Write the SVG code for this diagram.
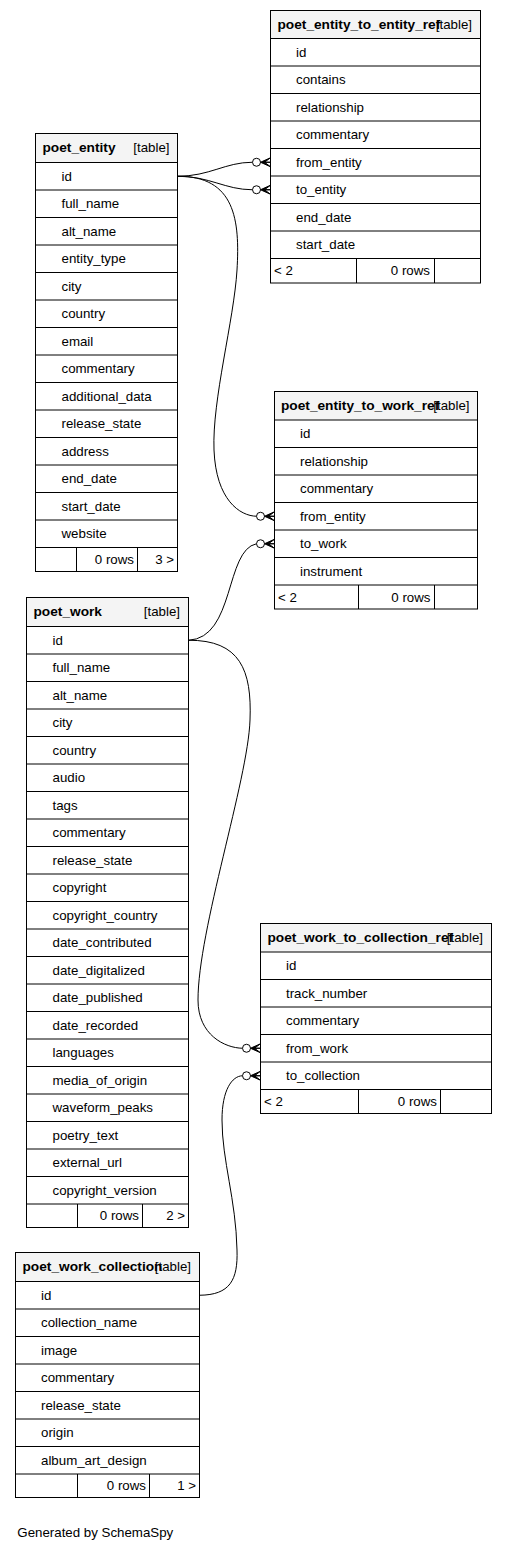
<svg xmlns="http://www.w3.org/2000/svg" xmlns:xlink="http://www.w3.org/1999/xlink" width="506" height="1551" viewBox="0 0 506 1551">
<style>
text{font-family:"Liberation Sans",Arial,Helvetica,sans-serif;font-size:13.3px;fill:#000}
.t{font-weight:bold;font-size:13.7px}
.e{text-anchor:end}
.box{fill:#fff;stroke:#000;stroke-width:1}
.hd{fill:#f4f4f4;stroke:#000;stroke-width:1}
.ln{fill:none;stroke:#000;stroke-width:1}
.edge{fill:none;stroke:#000;stroke-width:1}
</style>
<defs>
<g id="crow"><circle cx="-14" cy="0" r="4" fill="#fff" stroke="#000" stroke-width="1"/><polygon points="-10,0 0,-4.5 -6,0 0,0 -6,0 0,4.5" fill="#000" stroke="#000" stroke-width="1"/></g>
</defs>
<rect width="506" height="1551" fill="#fff"/>
<g id="connectors">
<path class="edge" d="M177.5,176.25 C210,176.25 225,162.25 252.5,162.25"/>
<path class="edge" d="M177.5,176.25 C210,176.25 225,189.75 252.5,189.75"/>
<path class="edge" d="M177.5,176.25 C235,176 240,220 237,270 C234,320 212,400 214,450 C216,500 240,516 256.5,516.25"/>
<path class="edge" d="M188.5,640.25 C235,638 225,550 256.5,543.75"/>
<path class="edge" d="M188.5,640.25 C240,640 252,670 250,720 C248,780 198,930 198,1000 C198,1035 225,1048 242.5,1048.25"/>
<path class="edge" d="M199.5,1295.25 C230,1295 238,1280 237,1250 C236,1200 222,1160 222,1120 C222,1090 232,1076 242.5,1075.75"/>
<use xlink:href="#crow" transform="translate(270.5,162.25)"/>
<use xlink:href="#crow" transform="translate(270.5,189.75)"/>
<use xlink:href="#crow" transform="translate(274.5,516.25)"/>
<use xlink:href="#crow" transform="translate(274.5,543.75)"/>
<use xlink:href="#crow" transform="translate(260.5,1048.25)"/>
<use xlink:href="#crow" transform="translate(260.5,1075.75)"/>
</g>
<g id="poet_entity_to_entity_ref">
<rect class="box" x="270.5" y="10.5" width="210" height="272.5"/>
<rect class="hd" x="270.5" y="10.5" width="210" height="28"/>
<path class="ln" d="M270.5,66H480.5M270.5,93.5H480.5M270.5,121H480.5M270.5,148.5H480.5M270.5,176H480.5M270.5,203.5H480.5M270.5,231H480.5M270.5,258.5H480.5M356.5,258.5V283M434.5,258.5V283"/>
<text class="t" x="277.5" y="28.5">poet_entity_to_entity_ref</text>
<text class="e" x="472" y="28.5">[table]</text>
<text x="296" y="56.8">id</text>
<text x="296" y="84.3">contains</text>
<text x="296" y="111.8">relationship</text>
<text x="296" y="139.3">commentary</text>
<text x="296" y="166.8">from_entity</text>
<text x="296" y="194.3">to_entity</text>
<text x="296" y="221.8">end_date</text>
<text x="296" y="249.3">start_date</text>
<text x="274" y="275">&lt; 2</text>
<text class="e" x="430" y="275">0 rows</text>
</g>
<g id="poet_entity">
<rect class="box" x="35.5" y="133.5" width="142" height="438"/>
<rect class="hd" x="35.5" y="133.5" width="142" height="29"/>
<path class="ln" d="M35.5,190H177.5M35.5,217.5H177.5M35.5,245H177.5M35.5,272.5H177.5M35.5,300H177.5M35.5,327.5H177.5M35.5,355H177.5M35.5,382.5H177.5M35.5,410H177.5M35.5,437.5H177.5M35.5,465H177.5M35.5,492.5H177.5M35.5,520H177.5M35.5,547.5H177.5M76.5,547.5V571.5M137.5,547.5V571.5"/>
<text class="t" x="42.5" y="151.5">poet_entity</text>
<text class="e" x="169.5" y="151.5">[table]</text>
<text x="61.5" y="180.8">id</text>
<text x="61.5" y="208.3">full_name</text>
<text x="61.5" y="235.8">alt_name</text>
<text x="61.5" y="263.3">entity_type</text>
<text x="61.5" y="290.8">city</text>
<text x="61.5" y="318.3">country</text>
<text x="61.5" y="345.8">email</text>
<text x="61.5" y="373.3">commentary</text>
<text x="61.5" y="400.8">additional_data</text>
<text x="61.5" y="428.3">release_state</text>
<text x="61.5" y="455.8">address</text>
<text x="61.5" y="483.3">end_date</text>
<text x="61.5" y="510.8">start_date</text>
<text x="61.5" y="538.3">website</text>
<text class="e" x="134" y="564">0 rows</text>
<text class="e" x="174" y="564">3 &gt;</text>
</g>
<g id="poet_entity_to_work_ref">
<rect class="box" x="274.5" y="391.5" width="203" height="217.5"/>
<rect class="hd" x="274.5" y="391.5" width="203" height="28.5"/>
<path class="ln" d="M274.5,447.5H477.5M274.5,475H477.5M274.5,502.5H477.5M274.5,530H477.5M274.5,557.5H477.5M274.5,585H477.5M358.5,585V609M434.5,585V609"/>
<text class="t" x="281" y="409.5">poet_entity_to_work_ref</text>
<text class="e" x="469.5" y="409.5">[table]</text>
<text x="300" y="438.3">id</text>
<text x="300" y="465.8">relationship</text>
<text x="300" y="493.3">commentary</text>
<text x="300" y="520.8">from_entity</text>
<text x="300" y="548.3">to_work</text>
<text x="300" y="575.8">instrument</text>
<text x="278" y="601.5">&lt; 2</text>
<text class="e" x="430.5" y="601.5">0 rows</text>
</g>
<g id="poet_work">
<rect class="box" x="26.5" y="597.5" width="162" height="630"/>
<rect class="hd" x="26.5" y="597.5" width="162" height="29"/>
<path class="ln" d="M26.5,654H188.5M26.5,681.5H188.5M26.5,709H188.5M26.5,736.5H188.5M26.5,764H188.5M26.5,791.5H188.5M26.5,819H188.5M26.5,846.5H188.5M26.5,874H188.5M26.5,901.5H188.5M26.5,929H188.5M26.5,956.5H188.5M26.5,984H188.5M26.5,1011.5H188.5M26.5,1039H188.5M26.5,1066.5H188.5M26.5,1094H188.5M26.5,1121.5H188.5M26.5,1149H188.5M26.5,1176.5H188.5M26.5,1204H188.5M77.5,1204V1227.5M142.5,1204V1227.5"/>
<text class="t" x="33.5" y="615.5">poet_work</text>
<text class="e" x="180" y="615.5">[table]</text>
<text x="52.5" y="644.8">id</text>
<text x="52.5" y="672.3">full_name</text>
<text x="52.5" y="699.8">alt_name</text>
<text x="52.5" y="727.3">city</text>
<text x="52.5" y="754.8">country</text>
<text x="52.5" y="782.3">audio</text>
<text x="52.5" y="809.8">tags</text>
<text x="52.5" y="837.3">commentary</text>
<text x="52.5" y="864.8">release_state</text>
<text x="52.5" y="892.3">copyright</text>
<text x="52.5" y="919.8">copyright_country</text>
<text x="52.5" y="947.3">date_contributed</text>
<text x="52.5" y="974.8">date_digitalized</text>
<text x="52.5" y="1002.3">date_published</text>
<text x="52.5" y="1029.8">date_recorded</text>
<text x="52.5" y="1057.3">languages</text>
<text x="52.5" y="1084.8">media_of_origin</text>
<text x="52.5" y="1112.3">waveform_peaks</text>
<text x="52.5" y="1139.8">poetry_text</text>
<text x="52.5" y="1167.3">external_url</text>
<text x="52.5" y="1194.8">copyright_version</text>
<text class="e" x="139" y="1220">0 rows</text>
<text class="e" x="185" y="1220">2 &gt;</text>
</g>
<g id="poet_work_to_collection_ref">
<rect class="box" x="260.5" y="923.5" width="231" height="190"/>
<rect class="hd" x="260.5" y="923.5" width="231" height="28.5"/>
<path class="ln" d="M260.5,979.5H491.5M260.5,1007H491.5M260.5,1034.5H491.5M260.5,1062H491.5M260.5,1089.5H491.5M358.5,1089.5V1113.5M440.5,1089.5V1113.5"/>
<text class="t" x="267.5" y="941.5">poet_work_to_collection_ref</text>
<text class="e" x="483" y="941.5">[table]</text>
<text x="286" y="970.3">id</text>
<text x="286" y="997.8">track_number</text>
<text x="286" y="1025.3">commentary</text>
<text x="286" y="1052.8">from_work</text>
<text x="286" y="1080.3">to_collection</text>
<text x="264" y="1106">&lt; 2</text>
<text class="e" x="437" y="1106">0 rows</text>
</g>
<g id="poet_work_collection">
<rect class="box" x="15.5" y="1252.5" width="184" height="245"/>
<rect class="hd" x="15.5" y="1252.5" width="184" height="29"/>
<path class="ln" d="M15.5,1309H199.5M15.5,1336.5H199.5M15.5,1364H199.5M15.5,1391.5H199.5M15.5,1419H199.5M15.5,1446.5H199.5M15.5,1474H199.5M77.5,1474V1497.5M149.5,1474V1497.5"/>
<text class="t" x="22.5" y="1270.5">poet_work_collection</text>
<text class="e" x="191" y="1270.5">[table]</text>
<text x="41" y="1299.8">id</text>
<text x="41" y="1327.3">collection_name</text>
<text x="41" y="1354.8">image</text>
<text x="41" y="1382.3">commentary</text>
<text x="41" y="1409.8">release_state</text>
<text x="41" y="1437.3">origin</text>
<text x="41" y="1464.8">album_art_design</text>
<text class="e" x="146" y="1490">0 rows</text>
<text class="e" x="196" y="1490">1 &gt;</text>
</g>
<text x="17.3" y="1536.5">Generated by SchemaSpy</text>
</svg>
